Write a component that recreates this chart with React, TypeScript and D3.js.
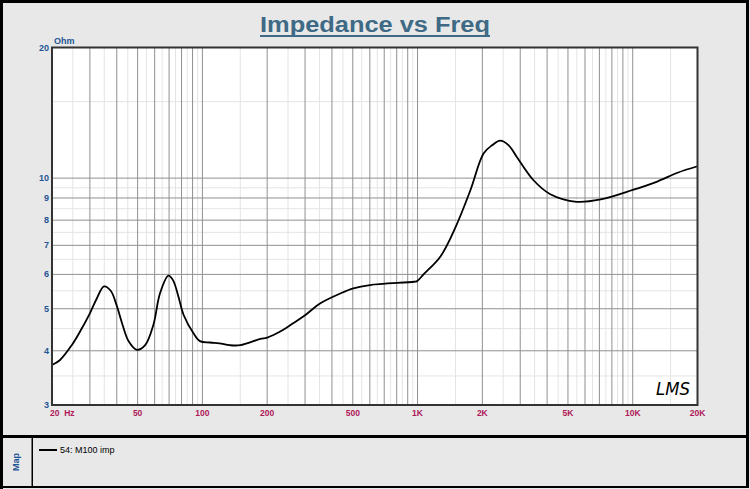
import React from "react";
import * as d3 from "d3";

const freqs = [20, 21.8, 24.7, 27, 30, 32.3, 34.9, 37.5, 40, 42.5, 45.5, 49.6, 54.2, 59.2, 63.5, 69.5, 73, 77.4, 81.9, 90.9, 97.4, 108.5, 120, 134, 150, 186, 200, 230, 264, 300, 352, 437, 503, 601, 964, 995, 1066, 1278, 1500, 1762, 2026, 2218, 2422, 2652, 2888, 3450, 4140, 5480, 7100, 10000, 13000, 16140, 20000];
const impedance = [3.71, 3.81, 4.12, 4.43, 4.88, 5.28, 5.63, 5.5, 5.08, 4.6, 4.2, 4.02, 4.12, 4.59, 5.42, 5.96, 5.82, 5.33, 4.83, 4.39, 4.21, 4.18, 4.16, 4.12, 4.12, 4.26, 4.29, 4.43, 4.63, 4.83, 5.14, 5.42, 5.57, 5.67, 5.77, 5.79, 6.0, 6.6, 7.7, 9.39, 11.4, 11.9, 12.2, 11.9, 11.2, 9.9, 9.18, 8.82, 8.93, 9.39, 9.82, 10.29, 10.65];

const xTickValues = [20, 50, 100, 200, 500, 1000, 2000, 5000, 10000, 20000];
const xTickLabels = ["20  Hz", "50", "100", "200", "500", "1K", "2K", "5K", "10K", "20K"];
const yTickValues = [3, 4, 5, 6, 7, 8, 9, 10, 20];
const yTickLabels = ["3", "4", "5", "6", "7", "8", "9", "10", "20"];
const titleText = "Impedance vs Freq";
const legendText = "54: M100 imp";

const W = 750, H = 489;
const L = 52, R = 697.5, T = 47.5, B = 405;

export default function App() {
  const x = d3.scaleLog().domain([20, 20000]).range([L, R]);
  const y = d3.scaleLog().domain([3, 20]).range([B, T]);

  const majorX: number[] = [];
  const minorX: number[] = [];
  for (const dec of [10, 100, 1000, 10000]) {
    for (let n = 1; n <= 9; n++) {
      const v = n * dec;
      if (v > 20 && v < 20000) majorX.push(v);
      const m = (n + 0.5) * dec;
      if (m > 20 && m < 20000) minorX.push(m);
    }
  }
  const majorY = [4, 5, 6, 7, 8, 9, 10];
  const minorY = [3.5, 4.5, 5.5, 6.5, 7.5, 8.5, 9.5, 15];

  const pts: [number, number][] = freqs.map((f, i) => [x(f), y(impedance[i])]);
  const line = d3.line().curve(d3.curveCatmullRom.alpha(0.5))(pts) || "";

  const font = "'Liberation Sans', Arial, sans-serif";

  return (
    <svg width={W} height={H} style={{ position: "fixed", left: 0, top: 0 }} fontFamily={font}>
      <rect x={0} y={0} width={W} height={H} fill="#e8e8e8" />
      {/* frames */}
      <rect x={0} y={0} width={3} height={H} fill="#000" />
      <rect x={0} y={0} width={749} height={3} fill="#000" />
      <rect x={746} y={0} width={3} height={488} fill="#000" />
      <rect x={0} y={435} width={749} height={3} fill="#000" />
      <rect x={0} y={486} width={749} height={2} fill="#000" />
      <rect x={31.5} y={437} width={1.5} height={50} fill="#000" />

      {/* title */}
      <text x={375} y={32} textAnchor="middle" fontSize={22} fontWeight="bold" fill="#3e6a86" textLength={230} lengthAdjust="spacingAndGlyphs">{titleText}</text>
      <rect x={260} y={35} width={230} height={2} fill="#3e6a86" />

      {/* plot */}
      <rect x={L} y={T} width={R - L} height={B - T} fill="#fff" />
      {minorX.map((v) => (
        <line key={"mx" + v} x1={x(v)} x2={x(v)} y1={T} y2={B} stroke="#e4e4e4" strokeWidth={1} />
      ))}
      {minorY.map((v) => (
        <line key={"my" + v} x1={L} x2={R} y1={y(v)} y2={y(v)} stroke="#e4e4e4" strokeWidth={1} />
      ))}
      {majorX.map((v) => (
        <line key={"Mx" + v} x1={x(v)} x2={x(v)} y1={T} y2={B} stroke="#909090" strokeWidth={1} />
      ))}
      {majorY.map((v) => (
        <line key={"My" + v} x1={L} x2={R} y1={y(v)} y2={y(v)} stroke="#909090" strokeWidth={1} />
      ))}
      <path d={line} fill="none" stroke="#000" strokeWidth={1.8} strokeLinejoin="round" />
      <rect x={L} y={T} width={R - L} height={B - T} fill="none" stroke="#333" strokeWidth={2} />

      {/* y ticks */}
      {yTickValues.map((v, i) => (
        <text key={"yt" + v} x={L - 3} y={y(v) + 3} textAnchor="end" fontSize={9} fontWeight="bold" fill="#1f5594">{yTickLabels[i]}</text>
      ))}
      <text x={L + 2} y={T - 4} fontSize={9} fontWeight="bold" fill="#1f5594">Ohm</text>

      {/* x ticks */}
      {xTickValues.map((v, i) => (
        <text key={"xt" + v} x={i === 0 ? L - 2 : x(v)} y={B + 11} textAnchor={i === 0 ? "start" : "middle"} fontSize={8.5} fontWeight="bold" fill="#b0185a" style={{ whiteSpace: "pre" }}>{xTickLabels[i]}</text>
      ))}

      {/* LMS logo */}
      <text x={656} y={395} fontSize={17} fontStyle="italic" fontFamily="'DejaVu Sans', sans-serif" fill="#000" textLength={34} lengthAdjust="spacingAndGlyphs">LMS</text>

      {/* legend panel */}
      <text transform="translate(19,462) rotate(-90)" textAnchor="middle" fontSize={9} fontWeight="bold" fill="#1f5594">Map</text>
      <line x1={39} x2={57} y1={450} y2={450} stroke="#000" strokeWidth={2} />
      <text x={60} y={453} fontSize={9} fill="#000">{legendText}</text>
    </svg>
  );
}
